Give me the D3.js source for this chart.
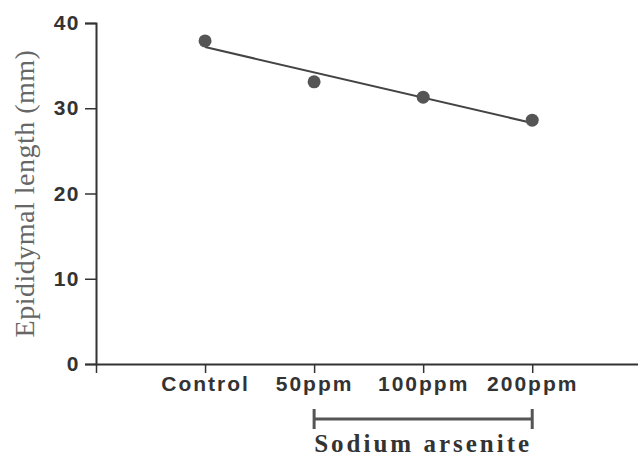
<!DOCTYPE html>
<html>
<head>
<meta charset="utf-8">
<script src="https://cdn.jsdelivr.net/npm/d3@7"></script>
<style>
  html, body { margin: 0; padding: 0; background: #fff; }
</style>
</head>
<body>
<div id="chart"></div>
<script>
// Data
const groups = ['Control', '50ppm', '100ppm', '200ppm']
const lengths = [37.9, 33.1, 31.3, 28.6]
const yTicks = [0, 10, 20, 30, 40]

const width = 638
const height = 459

const svg = d3
  .select('#chart')
  .append('svg')
  .attr('width', width)
  .attr('height', height)

// x: index scale, origin one step left of Control, axis runs to the right edge
const x = d3.scaleLinear().domain([-1, 3.97]).range([96, 638])
const y = d3.scaleLinear().domain([0, 40]).range([364, 23])

const axisColor = '#333'
const tickFont = '"Liberation Sans", Arial, sans-serif'

// Y axis
const yAxis = svg
  .append('g')
  .attr('transform', `translate(${x(-1)},0)`)
  .call(d3.axisLeft(y).tickValues(yTicks).tickSize(11).tickPadding(5))
yAxis.select('.domain').attr('stroke', axisColor).attr('stroke-width', 2)
yAxis.selectAll('.tick line').attr('stroke', axisColor).attr('stroke-width', 1.5)
yAxis
  .selectAll('.tick text')
  .attr('fill', '#333')
  .style('font-family', tickFont)
  .style('font-size', '21px')
  .style('font-weight', 'bold')
  .style('letter-spacing', '1.5px')

// X axis
const xAxis = svg
  .append('g')
  .attr('transform', `translate(0,${y(0)})`)
  .call(
    d3
      .axisBottom(x)
      .tickValues([-1, 0, 1, 2, 3])
      .tickSize(9)
      .tickSizeOuter(0)
      .tickPadding(3)
      .tickFormat(i => (i >= 0 ? groups[i] : ''))
  )
xAxis.select('.domain').attr('stroke', axisColor).attr('stroke-width', 2)
xAxis.selectAll('.tick line').attr('stroke', axisColor).attr('stroke-width', 1.5)
xAxis
  .selectAll('.tick text')
  .attr('fill', '#333')
  .style('font-family', tickFont)
  .style('font-size', '21px')
  .style('font-weight', 'bold')
  .style('letter-spacing', '2px')

// Y label
svg
  .append('text')
  .attr('transform', `translate(34,${(y(0) + y(40)) / 2}) rotate(-90)`)
  .attr('text-anchor', 'middle')
  .style('font-family', '"Liberation Serif", "Times New Roman", serif')
  .style('font-size', '28px')
  .style('letter-spacing', '0.5px')
  .attr('fill', '#666')
  .text('Epididymal length (mm)')

// Regression line (least squares on the group means)
const xs = groups.map((d, i) => i)
const mx = d3.mean(xs)
const my = d3.mean(lengths)
const slope =
  d3.sum(xs, (xi, i) => (xi - mx) * (lengths[i] - my)) / d3.sum(xs, xi => (xi - mx) ** 2)
const intercept = my - slope * mx

svg
  .append('line')
  .attr('x1', x(0))
  .attr('y1', y(intercept))
  .attr('x2', x(3))
  .attr('y2', y(intercept + slope * 3))
  .attr('stroke', '#444')
  .attr('stroke-width', 2)

// Points
svg
  .selectAll('.pt')
  .data(lengths)
  .enter()
  .append('circle')
  .attr('class', 'pt')
  .attr('cx', (d, i) => x(i))
  .attr('cy', d => y(d))
  .attr('r', 6.5)
  .attr('fill', '#555')

// Bracket for treated groups
const by = 419
const bracket = svg.append('g').attr('stroke', '#555').attr('stroke-width', 3)
bracket.append('line').attr('x1', x(1)).attr('x2', x(3)).attr('y1', by).attr('y2', by)
bracket.append('line').attr('x1', x(1)).attr('x2', x(1)).attr('y1', by - 10).attr('y2', by + 10)
bracket.append('line').attr('x1', x(3)).attr('x2', x(3)).attr('y1', by - 10).attr('y2', by + 10)

svg
  .append('text')
  .attr('x', (x(1) + x(3)) / 2)
  .attr('y', 452)
  .attr('text-anchor', 'middle')
  .style('font-family', '"Liberation Serif", "Times New Roman", serif')
  .style('font-size', '25px')
  .style('font-weight', 'bold')
  .style('letter-spacing', '3px')
  .attr('fill', '#333')
  .text('Sodium arsenite')
</script>
</body>
</html>
